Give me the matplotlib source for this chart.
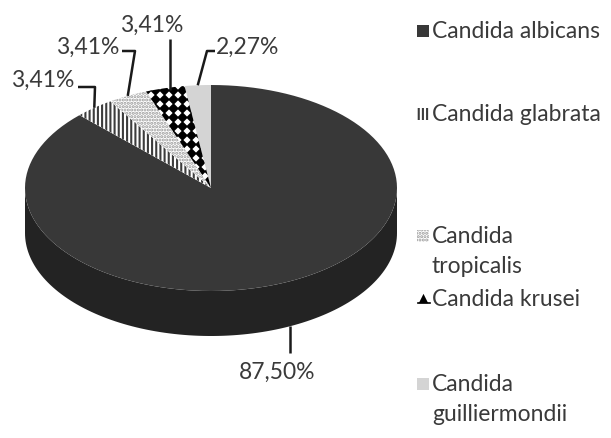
import matplotlib.pyplot as plt
import numpy as np
from matplotlib.patches import Polygon, Rectangle

plt.rcParams['font.family'] = ['Lato', 'DejaVu Sans']
plt.rcParams['hatch.linewidth'] = 1.5

# species shares (%), drawn clockwise from 12 o'clock
species = ["Candida albicans", "Candida glabrata", "Candida tropicalis",
           "Candida krusei", "Candida guilliermondii"]
legend_text = ["Candida albicans", "Candida glabrata", "Candida\ntropicalis",
               "Candida krusei", "Candida\nguilliermondii"]
shares = [87.50, 3.41, 3.41, 3.41, 2.27]
pct_labels = ["87,50%", "3,41%", "3,41%", "3,41%", "2,27%"]

# pie geometry in pixel units
cx, cy = 211, 189
rx, ry = 186, 103
depth = 45

def ellipse_pts(t0, t1, dy=0, n=120):
    t = np.deg2rad(np.linspace(t0, t1, n))
    return np.column_stack([cx + rx * np.cos(t), cy - ry * np.sin(t) + dy])

def rim_y(x, lower):
    # y of the pie rim at a given x (upper back edge or lower front edge)
    h = ry * np.sqrt(1 - ((x - cx) / rx) ** 2)
    return cy + h + depth if lower else cy - h

fig = plt.figure(figsize=(6.11, 4.39), dpi=100)
ax = fig.add_axes([0, 0, 1, 1])
ax.set_xlim(0, 611)
ax.set_ylim(439, 0)
ax.axis('off')

total = sum(shares)
ends = 90 - np.cumsum(shares) / total * 360
starts = np.concatenate([[90], ends[:-1]])
mids = (starts + ends) / 2

# side wall (front half only)
front = ellipse_pts(180, 360)
side = np.vstack([front, front[::-1] + [0, depth]])
ax.add_patch(Polygon(side, closed=True, facecolor='#232323', edgecolor='none'))

# top face wedges
styles = [
    dict(facecolor='#383838', edgecolor='none'),
    dict(facecolor='white', edgecolor='#3c3c3c', hatch='||||', linewidth=0),
    dict(facecolor='white', edgecolor='#9a9a9a', hatch='.....', linewidth=0),
    dict(facecolor='white', edgecolor='none'),
    dict(facecolor='#d4d4d4', edgecolor='none'),
]
wedges = []
for s, e, st in zip(starts, ends, styles):
    pts = np.vstack([[cx, cy], ellipse_pts(s, e)])
    w = Polygon(pts, closed=True, **st)
    ax.add_patch(w)
    wedges.append(w)

# diamond fill for krusei
gx, gy = np.meshgrid(np.arange(101, 230, 9), np.arange(82, 200, 9))
dots = ax.scatter(gx.ravel(), gy.ravel(), marker='D', s=30, color='black', lw=0)
dots.set_clip_path(wedges[3])

# leader anchors: rim point at mid angle of each slice
anchors = []
for m in mids:
    t = np.deg2rad(m)
    x = cx + rx * np.cos(t)
    y = cy - ry * np.sin(t)
    if np.sin(t) < 0:
        y += depth
    anchors.append((x, y))
# straight vertical leaders for albicans and krusei
anchors[0] = (290, rim_y(290, True))
anchors[3] = (170, rim_y(170, False) + 2)

label_pos = [(277, 372), (43, 80), (88, 47), (152, 25), (248, 47)]
elbows = [[(290, 354)], [(78, 88), (95, 88)], [(122, 52), (135, 52)],
          [(170, 40)], [(215, 52), (207, 52)]]
for txt, pos, elb, anc in zip(pct_labels, label_pos, elbows, anchors):
    xs = [p[0] for p in elb] + [anc[0]]
    ys = [p[1] for p in elb] + [anc[1]]
    ax.plot(xs, ys, color='#1a1a1a', lw=1.8, solid_capstyle='butt')
    ax.text(pos[0], pos[1], txt, fontsize=16.5, color='#3a3a3a',
            ha='center', va='center')

# legend
leg_y = [32, 115, 237, 300, 385]
lx = 424
for i, (lab, y) in enumerate(zip(legend_text, leg_y)):
    if i == 3:
        ax.scatter([lx - 1], [y - 1], marker='^', s=45, color='black', lw=0)
        ax.plot([lx - 6, lx + 6], [y + 4, y + 4], color='black', lw=1.2)
    else:
        st = {k: v for k, v in styles[i].items() if k != 'linewidth'}
        ax.add_patch(Rectangle((lx - 7, y - 6), 12, 12, linewidth=0, **st))
    for j, line in enumerate(lab.split('\n')):
        ax.text(lx + 8, y + j * 30, line, fontsize=16.5, color='#3a3a3a',
                ha='left', va='center')

fig.savefig('out.png', dpi=100)
